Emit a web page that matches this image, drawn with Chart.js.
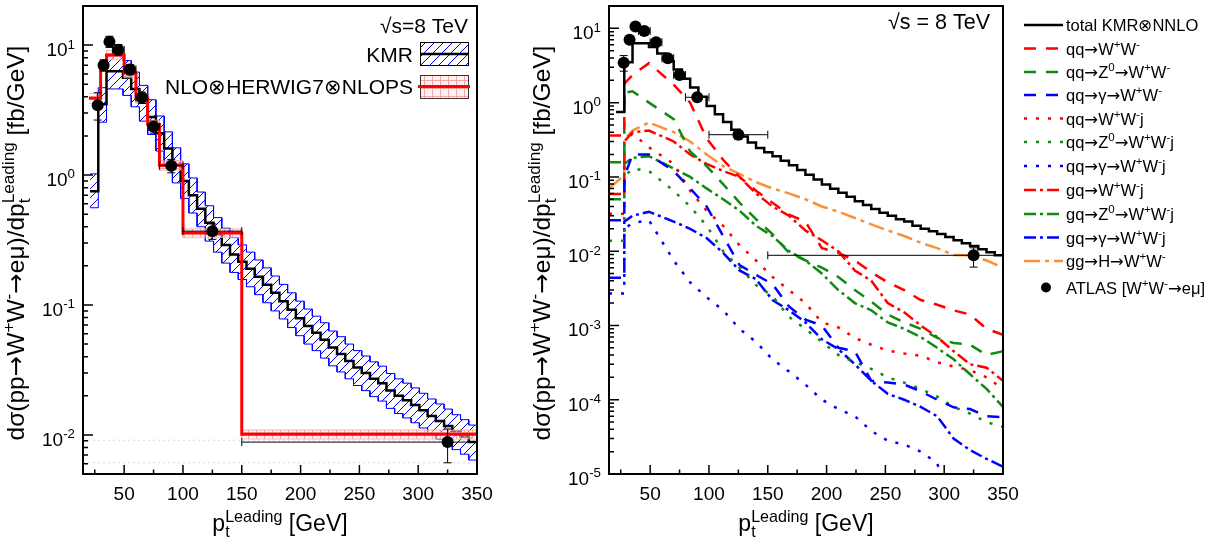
<!DOCTYPE html>
<html>
<head>
<meta charset="utf-8">
<script src="https://cdn.jsdelivr.net/npm/chart.js@4.4.1/dist/chart.umd.min.js"></script>
<style>
  html, body { margin: 0; padding: 0; background: #fff; }
  #wrap { position: relative; width: 1220px; height: 543px; }
  #left { position: absolute; left: 0; top: 0; }
  #right { position: absolute; left: 500px; top: 0; }
</style>
</head>
<body>
<div id="wrap">
  <canvas id="left" width="500" height="543"></canvas>
  <canvas id="right" width="720" height="543"></canvas>
</div>
<script>
const FONT = '"Liberation Sans", Arial, Helvetica, sans-serif';
const SYMFONT = '"DejaVu Sans", sans-serif';

// ---------- data ----------
// ATLAS W+W- -> e mu, leading lepton pT
const atlasX   = [27.5, 32.5, 37.5, 45, 55, 65, 75, 90, 125, 325];
const atlasY   = [3.45, 7.0, 10.6, 9.2, 6.5, 3.95, 2.35, 1.18, 0.37, 0.0088];
const atlasYLo = [2.65, 6.3, 9.6, 8.4, 5.9, 3.55, 2.1, 1.04, 0.32, 0.0061];
const atlasYHi = [4.3, 7.7, 11.7, 10.1, 7.1, 4.35, 2.6, 1.32, 0.42, 0.0111];
const atlasXLo = [25, 30, 35, 40, 50, 60, 70, 80, 100, 150];
const atlasXHi = [30, 35, 40, 50, 60, 70, 80, 100, 150, 500];

// KMR (total KMR x NNLO), 7 GeV bins
const kmrEdges = [21, 28, 35, 42, 49, 56, 63, 70, 77, 84, 91, 98, 105, 112, 119, 126, 133, 140, 147, 154,
  161, 168, 175, 182, 189, 196, 203, 210, 217, 224, 231, 238, 245, 252, 259, 266, 273, 280, 287, 294,
  301, 308, 315, 322, 329, 336, 343, 350];
const kmrVals = [0.75, 3.5, 6.3, 6.3, 5.6, 4.6, 3.6, 2.8, 2.1, 1.6, 1.2, 0.9, 0.7, 0.55, 0.43, 0.35, 0.29, 0.245,
  0.215, 0.19, 0.165, 0.143, 0.124, 0.107, 0.092, 0.079, 0.069, 0.061, 0.054, 0.047, 0.042, 0.037, 0.033, 0.030,
  0.027, 0.025, 0.022, 0.020, 0.0185, 0.017, 0.0155, 0.014, 0.0128, 0.0117, 0.0106, 0.0097, 0.0088];
const kmrUp = [1.02, 4.7, 8.5, 8.5, 7.6, 6.2, 4.9, 3.8, 2.85, 2.15, 1.62, 1.22, 0.95, 0.74, 0.58, 0.47, 0.39, 0.33,
  0.29, 0.255, 0.222, 0.193, 0.167, 0.144, 0.124, 0.107, 0.093, 0.082, 0.073, 0.063, 0.057, 0.05, 0.0445, 0.0405,
  0.0365, 0.0338, 0.0297, 0.027, 0.025, 0.023, 0.0209, 0.0189, 0.0173, 0.0158, 0.0143, 0.0131, 0.0119];
const kmrLo = [0.56, 2.55, 4.6, 4.6, 4.1, 3.35, 2.6, 2.05, 1.53, 1.17, 0.87, 0.66, 0.51, 0.4, 0.31, 0.255, 0.21, 0.178,
  0.157, 0.138, 0.12, 0.104, 0.09, 0.078, 0.067, 0.058, 0.05, 0.0445, 0.039, 0.034, 0.0305, 0.027, 0.024, 0.0219,
  0.0197, 0.0182, 0.016, 0.0146, 0.0135, 0.0124, 0.0113, 0.0102, 0.0093, 0.0085, 0.0077, 0.0071, 0.0064];

// NLO x HERWIG7 x NLOPS
const nloEdges = [20, 30, 35, 50, 60, 70, 80, 100, 150, 350];
const nloVals  = [3.9, 7.0, 8.4, 6.1, 3.9, 2.45, 1.19, 0.358, 0.0101];
const nloUp    = [4.25, 7.6, 9.1, 6.6, 4.2, 2.65, 1.29, 0.385, 0.0109];
const nloLo    = [3.55, 6.4, 7.7, 5.6, 3.6, 2.25, 1.09, 0.33, 0.0093];

// subprocess curves (right panel)
const compX = [15, 28, 28, 35, 49, 70, 84, 98, 112, 126, 140, 154, 168, 182, 196, 210, 224, 238, 252, 266, 280, 294, 308, 322, 336, 350];
const qqWW   = [0.36, 0.36, 1.8, 2.35, 3.4, 1.75, 1.0, 0.33, 0.17, 0.1, 0.065, 0.045, 0.031, 0.025, 0.011, 0.0095, 0.0075, 0.0052, 0.0038, 0.003, 0.0022, 0.0019, 0.0016, 0.0014, 0.0009, 0.00075];
const qqZWW  = [0.157, 0.157, 1.35, 1.42, 1.0, 0.6, 0.22, 0.14, 0.08, 0.045, 0.027, 0.017, 0.0095, 0.0075, 0.006, 0.0045, 0.003, 0.0021, 0.0014, 0.0011, 0.0009, 0.00068, 0.00058, 0.00055, 0.0004, 0.00045];
const qqAWW  = [0.026, 0.026, 0.1, 0.2, 0.2, 0.12, 0.07, 0.04, 0.016, 0.0065, 0.0048, 0.0036, 0.0018, 0.0012, 0.001, 0.0005, 0.00045, 0.00018, 0.00017, 0.00016, 0.00013, 0.0001, 7.9e-5, 7.5e-5, 6e-5, 5.8e-5];
const qqWWj  = [0.032, 0.032, 0.3, 0.38, 0.25, 0.15, 0.065, 0.035, 0.022, 0.012, 0.0075, 0.0045, 0.003, 0.002, 0.0011, 0.00094, 0.00068, 0.00055, 0.00046, 0.00042, 0.00039, 0.00032, 0.00028, 0.00025, 0.0002, 0.00014];
const qqZWWj = [0.0138, 0.0138, 0.1, 0.13, 0.12, 0.065, 0.04, 0.022, 0.01, 0.006, 0.0035, 0.0025, 0.0013, 0.0009, 0.0006, 0.0004, 0.00032, 0.00026, 0.0002, 0.00017, 0.00014, 0.00011, 8e-5, 6.5e-5, 5e-5, 4.3e-5];
const qqAWWj = [0.0027, 0.0027, 0.02, 0.024, 0.026, 0.0075, 0.0038, 0.0024, 0.0016, 0.0009, 0.0006, 0.00035, 0.00024, 0.00016, 0.0001, 7.5e-5, 6e-5, 3.8e-5, 2.8e-5, 2.5e-5, 2e-5, 1.4e-5, 3e-6, null, null, null];
const gqWWj  = [0.059, 0.059, 0.3, 0.4, 0.42, 0.3, 0.2, 0.15, 0.12, 0.1, 0.06, 0.04, 0.03, 0.019, 0.014, 0.01, 0.0055, 0.004, 0.002, 0.0015, 0.001, 0.0007, 0.00045, 0.0003, 0.00027, 0.00018];
const gqZWWj = [0.05, 0.05, 0.15, 0.18, 0.19, 0.13, 0.1, 0.07, 0.05, 0.035, 0.022, 0.016, 0.01, 0.0075, 0.005, 0.003, 0.002, 0.0016, 0.0011, 0.0009, 0.0007, 0.0005, 0.00035, 0.00022, 0.00014, 8e-5];
const gqAWWj = [0.0044, 0.0044, 0.025, 0.03, 0.034, 0.025, 0.02, 0.015, 0.0095, 0.0055, 0.0042, 0.0022, 0.0016, 0.0011, 0.00065, 0.00048, 0.0003, 0.00018, 0.00012, 0.0001, 8e-5, 6e-5, 3e-5, 2.1e-5, 1.6e-5, 1.25e-5];
const ggHWW  = [0.07, 0.105, 0.32, 0.42, 0.54, 0.4, 0.3, 0.2, 0.14, 0.11, 0.085, 0.07, 0.06, 0.05, 0.04, 0.034, 0.028, 0.023, 0.019, 0.016, 0.013, 0.011, 0.0089, 0.0088, 0.0075, 0.006];

const xMajor = [50, 100, 150, 200, 250, 300, 350];
const xMinor = [25, 75, 125, 175, 225, 275, 325];

const RED = '#ff0000', GREEN = '#108a10', BLUE = '#0000ff', ORANGE = '#f7923a';
const DASH = [12, 10], DOT = [3, 9], DASHDOT = [12, 4, 3, 4], LDASHDOT = [16, 5, 4, 5];

const components = [
  {label: 'qq\u2192W^{+}W^{-}', data: qqWW, color: RED, dash: DASH},
  {label: 'qq\u2192Z^{0}\u2192W^{+}W^{-}', data: qqZWW, color: GREEN, dash: DASH},
  {label: 'qq\u2192\u03b3\u2192W^{+}W^{-}', data: qqAWW, color: BLUE, dash: DASH},
  {label: 'qq\u2192W^{+}W^{-}j', data: qqWWj, color: RED, dash: DOT},
  {label: 'qq\u2192Z^{0}\u2192W^{+}W^{-}j', data: qqZWWj, color: GREEN, dash: DOT},
  {label: 'qq\u2192\u03b3\u2192W^{+}W^{-}j', data: qqAWWj, color: BLUE, dash: DOT},
  {label: 'gq\u2192W^{+}W^{-}j', data: gqWWj, color: RED, dash: DASHDOT},
  {label: 'gq\u2192Z^{0}\u2192W^{+}W^{-}j', data: gqZWWj, color: GREEN, dash: DASHDOT},
  {label: 'gq\u2192\u03b3\u2192W^{+}W^{-}j', data: gqAWWj, color: BLUE, dash: DASHDOT},
  {label: 'gg\u2192H\u2192W^{+}W^{-}', data: ggHWW, color: ORANGE, dash: LDASHDOT}
];

// ---------- helpers ----------
function stepData(edges, vals) {
  const pts = [];
  for (let i = 0; i < vals.length; i++) {
    pts.push({x: edges[i], y: vals[i]});
    pts.push({x: edges[i + 1], y: vals[i]});
  }
  return pts;
}
function xyData(xs, ys) {
  return xs.map((x, i) => ({x: x, y: ys[i]}));
}

function parseRich(s) {
  const out = [];
  const re = /([\^_])\{([^}]*)\}/g;
  let last = 0, m;
  while ((m = re.exec(s))) {
    if (m.index > last) out.push({t: s.slice(last, m.index), k: 'n'});
    out.push({t: m[2], k: m[1] === '^' ? 'sup' : 'sub'});
    last = re.lastIndex;
  }
  if (last < s.length) out.push({t: s.slice(last), k: 'n'});
  return out;
}

// split a run so arrows use a font with a proper long arrow
function runs(t) {
  return t.split(/(\u2192)/).filter(r => r.length).map(r => ({t: r, f: r === '\u2192' ? SYMFONT : FONT}));
}
function runWidth(ctx, t, fs) {
  let w = 0;
  runs(t).forEach(r => { ctx.font = fs + 'px ' + r.f; w += ctx.measureText(r.t).width; });
  return w;
}
function runDraw(ctx, t, x, y, fs) {
  runs(t).forEach(r => {
    ctx.font = fs + 'px ' + r.f;
    ctx.fillText(r.t, x, y);
    x += ctx.measureText(r.t).width;
  });
}

// draws text with ^{} and _{} at alphabetic baseline y
function drawRich(ctx, s, x, y, size, align) {
  const segs = parseRich(s);
  const small = size * 0.7;
  const items = [];
  let cx = 0;
  for (let i = 0; i < segs.length; i++) {
    const sg = segs[i];
    const fs = sg.k === 'n' ? size : small;
    const w = runWidth(ctx, sg.t, fs);
    const dy = sg.k === 'sup' ? -size * 0.4 : (sg.k === 'sub' ? size * 0.25 : 0);
    if (sg.k === 'sub' && segs[i + 1] && segs[i + 1].k === 'sup') {
      const nx = segs[i + 1];
      const w2 = runWidth(ctx, nx.t, fs);
      items.push({t: sg.t, x: cx, dy: dy, fs: fs});
      items.push({t: nx.t, x: cx, dy: -size * 0.4, fs: fs});
      cx += Math.max(w, w2);
      i++;
    } else {
      items.push({t: sg.t, x: cx, dy: dy, fs: fs});
      cx += w;
    }
  }
  let x0 = x;
  if (align === 'right') x0 = x - cx;
  else if (align === 'center') x0 = x - cx / 2;
  ctx.textAlign = 'left';
  ctx.textBaseline = 'alphabetic';
  items.forEach(it => runDraw(ctx, it.t, x0 + it.x, y + it.dy, it.fs));
  return cx;
}

function hatchPattern(ctx) {
  const c = document.createElement('canvas');
  c.width = 9; c.height = 9;
  const g = c.getContext('2d');
  g.strokeStyle = BLUE;
  g.lineWidth = 1;
  g.beginPath();
  g.moveTo(0, 9); g.lineTo(9, 0);
  g.moveTo(-1, 1); g.lineTo(1, -1);
  g.moveTo(8, 10); g.lineTo(10, 8);
  g.stroke();
  return ctx.createPattern(c, 'repeat');
}
function gridPattern(ctx) {
  const c = document.createElement('canvas');
  c.width = 8; c.height = 8;
  const g = c.getContext('2d');
  g.fillStyle = 'rgba(255,225,225,0.5)';
  g.fillRect(0, 0, 8, 8);
  g.strokeStyle = 'rgba(240,150,150,0.8)';
  g.lineWidth = 1;
  g.beginPath();
  g.moveTo(0.5, 0); g.lineTo(0.5, 8);
  g.moveTo(0, 0.5); g.lineTo(8, 0.5);
  g.stroke();
  return ctx.createPattern(c, 'repeat');
}

// ROOT-like frame, inner ticks, labels, titles
function axesPlugin(titleY) {
  return {
    id: 'rootAxes',
    afterDraw(chart) {
      const ctx = chart.ctx, a = chart.chartArea, x = chart.scales.x, y = chart.scales.y;
      ctx.save();
      ctx.strokeStyle = '#000';
      ctx.fillStyle = '#000';
      ctx.lineWidth = 1.5;
      ctx.beginPath();
      xMajor.forEach(v => {
        const px = x.getPixelForValue(v);
        ctx.moveTo(px, a.bottom); ctx.lineTo(px, a.bottom - 9);
      });
      xMinor.forEach(v => {
        const px = x.getPixelForValue(v);
        ctx.moveTo(px, a.bottom); ctx.lineTo(px, a.bottom - 4.5);
      });
      const k0 = Math.floor(Math.log10(y.min)), k1 = Math.ceil(Math.log10(y.max));
      for (let k = k0; k <= k1; k++) {
        for (let m = 1; m <= 9; m++) {
          const v = m * Math.pow(10, k);
          if (v < y.min * 0.999 || v > y.max * 1.001) continue;
          const py = y.getPixelForValue(v);
          ctx.moveTo(a.left, py); ctx.lineTo(a.left + (m === 1 ? 10 : 5), py);
        }
      }
      ctx.stroke();
      ctx.lineWidth = 2;
      ctx.strokeRect(a.left, a.top, a.right - a.left, a.bottom - a.top);

      // tick labels
      ctx.font = '19px ' + FONT;
      ctx.textAlign = 'center';
      ctx.textBaseline = 'alphabetic';
      xMajor.forEach(v => ctx.fillText(String(v), x.getPixelForValue(v), 500));
      for (let k = k0; k <= k1; k++) {
        const v = Math.pow(10, k);
        if (v < y.min * 0.999 || v > y.max * 1.001) continue;
        drawRich(ctx, '10^{' + k + '}', a.left - 8, y.getPixelForValue(v) + 11, 19, 'right');
      }
      // axis titles
      drawRich(ctx, 'p_{t}^{Leading} [GeV]', (a.left + a.right) / 2, 531, 23, 'center');
      ctx.save();
      ctx.translate(a.left - 59, titleY);
      ctx.rotate(-Math.PI / 2);
      drawRich(ctx, 'd\u03c3(pp\u2192W^{+}W^{-}\u2192e\u03bc)/dp_{t}^{Leading} [fb/GeV]', 0, 0, 24.5, 'center');
      ctx.restore();
      ctx.restore();
    }
  };
}

const errorBars = {
  id: 'errorBars',
  afterDatasetsDraw(chart) {
    const ctx = chart.ctx, a = chart.chartArea, x = chart.scales.x, y = chart.scales.y;
    ctx.save();
    ctx.beginPath();
    ctx.rect(a.left, a.top, a.right - a.left, a.bottom - a.top);
    ctx.clip();
    ctx.strokeStyle = '#000';
    ctx.lineWidth = 1;
    ctx.beginPath();
    atlasX.forEach((xv, i) => {
      const px = x.getPixelForValue(xv), py = y.getPixelForValue(atlasY[i]);
      const yl = y.getPixelForValue(atlasYLo[i]), yh = y.getPixelForValue(atlasYHi[i]);
      const xl = x.getPixelForValue(atlasXLo[i]), xh = x.getPixelForValue(atlasXHi[i]);
      ctx.moveTo(px, yl); ctx.lineTo(px, yh);
      ctx.moveTo(px - 4, yl); ctx.lineTo(px + 4, yl);
      ctx.moveTo(px - 4, yh); ctx.lineTo(px + 4, yh);
      ctx.moveTo(xl, py); ctx.lineTo(xh, py);
      ctx.moveTo(xl, py - 4); ctx.lineTo(xl, py + 4);
      ctx.moveTo(xh, py - 4); ctx.lineTo(xh, py + 4);
    });
    ctx.stroke();
    ctx.restore();
  }
};

function atlasDataset() {
  return {
    label: 'ATLAS', data: xyData(atlasX, atlasY), showLine: false,
    pointRadius: 6, pointHoverRadius: 6, pointBackgroundColor: '#000', pointBorderColor: '#000',
    pointBorderWidth: 0, order: 0
  };
}

function baseOptions(yMin, yMax, pad) {
  return {
    responsive: false,
    animation: false,
    events: [],
    layout: {padding: pad},
    plugins: {legend: {display: false}, tooltip: {enabled: false}, title: {display: false}},
    elements: {point: {radius: 0}, line: {tension: 0}},
    scales: {
      x: {type: 'linear', min: 15, max: 350, display: false},
      y: {type: 'logarithmic', min: yMin, max: yMax, display: false}
    }
  };
}

// ---------- left panel ----------
const lctx = document.getElementById('left').getContext('2d');
const hatch = hatchPattern(lctx);
const pinkGrid = gridPattern(lctx);

const leftLegend = {
  id: 'leftLegend',
  afterDraw(chart) {
    const ctx = chart.ctx;
    ctx.save();
    ctx.fillStyle = '#000';
    drawRich(ctx, '\u221as=8 TeV', 468, 33, 21, 'right');
    drawRich(ctx, 'KMR', 413, 61.5, 21, 'right');
    drawRich(ctx, 'NLO\u2297HERWIG7\u2297NLOPS', 413, 94, 21, 'right');
    // KMR box
    ctx.fillStyle = hatch;
    ctx.fillRect(420, 42, 48, 23);
    ctx.strokeStyle = '#000'; ctx.lineWidth = 1;
    ctx.strokeRect(420.5, 42.5, 48, 23);
    ctx.lineWidth = 2.5;
    ctx.beginPath(); ctx.moveTo(420, 54); ctx.lineTo(468, 54); ctx.stroke();
    // NLO box
    ctx.fillStyle = pinkGrid;
    ctx.fillRect(420, 75, 48, 23);
    ctx.strokeStyle = '#333'; ctx.lineWidth = 1;
    ctx.strokeRect(420.5, 75.5, 48, 23);
    ctx.strokeStyle = RED; ctx.lineWidth = 3;
    ctx.beginPath(); ctx.moveTo(418, 86.5); ctx.lineTo(470, 86.5); ctx.stroke();
    ctx.restore();
  }
};

new Chart(lctx, {
  type: 'line',
  data: {
    datasets: [
      atlasDataset(),
      {label: 'NLO', data: stepData(nloEdges, nloVals), borderColor: RED, borderWidth: 3, fill: false, order: 1},
      {label: 'NLO up', data: stepData(nloEdges, nloUp), borderColor: 'rgba(240,150,150,0.7)', borderWidth: 1,
        backgroundColor: pinkGrid, fill: '+1', order: 2},
      {label: 'NLO lo', data: stepData(nloEdges, nloLo), borderColor: 'rgba(240,150,150,0.7)', borderWidth: 1, fill: false, order: 3},
      {label: 'KMR', data: stepData(kmrEdges, kmrVals), borderColor: '#000', borderWidth: 2.5, fill: false, order: 4},
      {label: 'KMR up', data: stepData(kmrEdges, kmrUp), borderColor: BLUE, borderWidth: 1,
        backgroundColor: hatch, fill: '+1', order: 5},
      {label: 'KMR lo', data: stepData(kmrEdges, kmrLo), borderColor: BLUE, borderWidth: 1, fill: false, order: 6},
      {label: 'ref1', data: xyData([15, 350], [0.0091, 0.0091]), borderColor: '#d8d8d8', borderWidth: 1, borderDash: [2, 3], fill: false, order: 7},
      {label: 'ref2', data: xyData([15, 350], [0.0061, 0.0061]), borderColor: '#d8d8d8', borderWidth: 1, borderDash: [2, 3], fill: false, order: 8}
    ]
  },
  options: baseOptions(0.005, 20, {left: 83, top: 3, right: 23, bottom: 69}),
  plugins: [errorBars, leftLegend, axesPlugin(243)]
});

// ---------- right panel ----------
const rctx = document.getElementById('right').getContext('2d');

const rightLegend = {
  id: 'rightLegend',
  afterDraw(chart) {
    const ctx = chart.ctx;
    const off = 500;
    ctx.save();
    ctx.fillStyle = '#000';
    drawRich(ctx, '\u221as = 8 TeV', 990 - off, 29, 21.5, 'right');
    const rows = [25, 48.5, 72, 95, 118.5, 142, 166, 190, 214, 237.5, 261];
    const x0 = 1024 - off, x1 = 1063 - off, tx = 1066 - off;
    // total
    ctx.strokeStyle = '#000'; ctx.lineWidth = 2.5; ctx.setLineDash([]);
    ctx.beginPath(); ctx.moveTo(x0, rows[0]); ctx.lineTo(x1, rows[0]); ctx.stroke();
    drawRich(ctx, 'total KMR\u2297NNLO', tx, rows[0] + 6, 16.5, 'left');
    components.forEach((c, i) => {
      const yy = rows[i + 1];
      ctx.strokeStyle = c.color; ctx.lineWidth = 2.5; ctx.setLineDash(c.dash);
      ctx.beginPath(); ctx.moveTo(x0, yy); ctx.lineTo(x1, yy); ctx.stroke();
      ctx.setLineDash([]);
      ctx.fillStyle = '#000';
      drawRich(ctx, c.label, tx, yy + 6, 16.5, 'left');
    });
    ctx.fillStyle = '#000';
    ctx.beginPath(); ctx.arc(1046 - off, 287.5, 5, 0, Math.PI * 2); ctx.fill();
    drawRich(ctx, 'ATLAS [W^{+}W^{-}\u2192e\u03bc]', tx, 293.5, 16.5, 'left');
    ctx.restore();
  }
};

const rightSets = [atlasDataset()];
components.forEach((c, i) => {
  rightSets.push({
    label: c.label, data: xyData(compX, c.data), borderColor: c.color, borderWidth: 2.5,
    borderDash: c.dash, fill: false, spanGaps: false, order: 2 + i
  });
});
rightSets.push({label: 'total', data: stepData(kmrEdges, kmrVals), borderColor: '#000', borderWidth: 2.5, fill: false, order: 1});

new Chart(rctx, {
  type: 'line',
  data: {datasets: rightSets},
  options: baseOptions(1e-5, 20, {left: 109, top: 3, right: 217, bottom: 69}),
  plugins: [errorBars, rightLegend, axesPlugin(243)]
});
</script>
</body>
</html>
